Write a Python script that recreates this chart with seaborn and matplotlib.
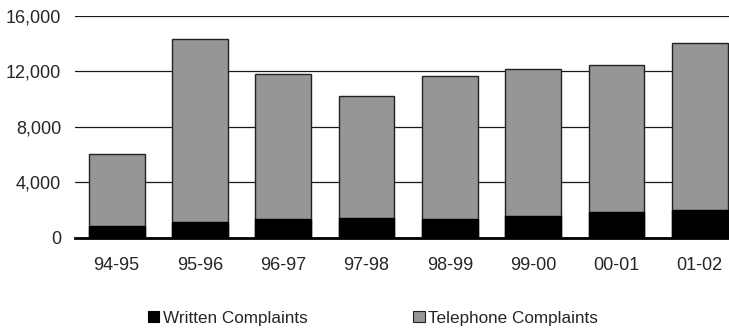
import matplotlib
matplotlib.use("Agg")
import matplotlib.pyplot as plt
import seaborn as sns
import pandas as pd
from matplotlib.patches import Patch

years = ["94-95", "95-96", "96-97", "97-98", "98-99", "99-00", "00-01", "01-02"]
written = [870, 1130, 1370, 1440, 1330, 1590, 1870, 2020]
telephone = [5180, 13220, 10430, 8750, 10320, 10590, 10550, 11990]

sns.set_theme(style="white")
plt.rcParams["font.family"] = ["Liberation Sans", "DejaVu Sans"]

df = pd.DataFrame({"year": years, "written": written, "telephone": telephone})
df["total"] = df["written"] + df["telephone"]

fig = plt.figure(figsize=(7.29, 3.29), dpi=100)
ax = fig.add_axes([75 / 729, 0.2775, 666.4 / 729, 0.675])

grey = "#969696"
# Telephone complaints stacked on written: draw the full stack in grey, then written over it
sns.barplot(data=df, x="year", y="total", color=grey, edgecolor="#222222",
            linewidth=1.0, width=0.67, saturation=1, ax=ax, zorder=2)
sns.barplot(data=df, x="year", y="written", color="black", edgecolor="black",
            linewidth=1.0, width=0.67, saturation=1, ax=ax, zorder=3)

ax.set_ylim(0, 16000)
ax.set_xlim(-0.5, 7.5)
ax.set_yticks([0, 4000, 8000, 12000, 16000])
ax.set_yticklabels([f"{v:,}" for v in [0, 4000, 8000, 12000, 16000]], fontsize=13)
ax.tick_params(axis="x", labelsize=13, length=0, pad=14)
ax.tick_params(axis="y", length=0, pad=10)
ax.set_xlabel("")
ax.set_ylabel("")
ax.yaxis.grid(True, color="#1a1a1a", linewidth=0.9, zorder=0)
ax.set_axisbelow(True)
for s in ["left", "right", "top"]:
    ax.spines[s].set_visible(False)
ax.spines["bottom"].set_color("black")
ax.spines["bottom"].set_linewidth(2.0)
ax.spines["bottom"].set_zorder(4)

handles = [Patch(facecolor="black", edgecolor="black", linewidth=0.8),
           Patch(facecolor=grey, edgecolor="#222222", linewidth=0.8)]
fig.legend(handles, ["Written Complaints", "Telephone Complaints"],
           loc="center", bbox_to_anchor=(373 / 729, 1 - 318 / 329), ncol=2,
           frameon=False, fontsize=12.3, handlelength=0.65, handleheight=0.65,
           handletextpad=0.2, columnspacing=6.2)

fig.savefig("out.png", dpi=100)
